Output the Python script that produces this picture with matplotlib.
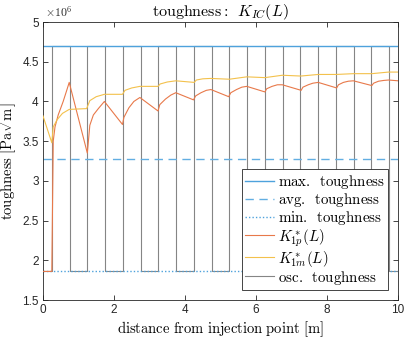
import matplotlib
matplotlib.use('Agg')
import matplotlib.pyplot as plt

plt.rcParams['font.family'] = ['Liberation Sans', 'DejaVu Sans']
plt.rcParams['mathtext.fontset'] = 'cm'

# toughness levels [Pa sqrt(m)]
k_max = 4.7e6
k_min = 1.86e6
k_avg = 3.28e6

# oscillating toughness (step edges and level of each segment)
osc_x = [0, 0.25, 0.75, 1.25, 1.75, 2.25, 2.75, 3.25, 3.75, 4.25, 4.75,
         5.25, 5.75, 6.25, 6.75, 7.25, 7.75, 8.25, 8.75, 9.25, 9.75, 10]
osc_y = [1.86e6, 4.7e6, 1.86e6, 4.7e6, 1.86e6, 4.7e6, 1.86e6, 4.7e6, 1.86e6, 4.7e6, 1.86e6,
         4.7e6, 1.86e6, 4.7e6, 1.86e6, 4.7e6, 1.86e6, 4.7e6, 1.86e6, 4.7e6, 1.86e6, 1.86e6]

# K*_1p(L)
k1p_x = [0, 0.25, 0.29, 0.34, 0.43, 0.57, 0.67, 0.74,
         1.25, 1.32, 1.42, 1.56, 1.73,
         2.24, 2.28, 2.42, 2.56, 2.73,
         3.24, 3.29, 3.45, 3.6, 3.74,
         4.24, 4.3, 4.45, 4.6, 4.73,
         5.23, 5.29, 5.45, 5.6, 5.74,
         6.25, 6.3, 6.45, 6.6, 6.74,
         7.27, 7.32, 7.47, 7.6, 7.75,
         8.27, 8.32, 8.46, 8.6, 8.74,
         9.26, 9.31, 9.45, 9.6, 9.73, 10]
k1p_y = [1.86, 1.86, 3.5, 3.68, 3.83, 4.0, 4.14, 4.24,
         3.35, 3.7, 3.83, 3.91, 4.0,
         3.71, 3.8, 3.92, 4.0, 4.05,
         3.88, 3.96, 4.03, 4.08, 4.11,
         4.02, 4.07, 4.11, 4.14, 4.15,
         4.06, 4.11, 4.15, 4.18, 4.19,
         4.12, 4.16, 4.19, 4.21, 4.21,
         4.14, 4.18, 4.21, 4.23, 4.24,
         4.17, 4.21, 4.24, 4.255, 4.26,
         4.2, 4.23, 4.255, 4.265, 4.27, 4.26]

# K*_1m(L)
k1m_x = [0, 0.25, 0.29, 0.4, 0.55, 0.74, 1.23, 1.32, 1.5, 1.73, 2.24, 2.31, 2.5,
         2.73, 3.24, 3.3, 3.5, 3.74, 4.26, 4.32, 4.5, 4.72, 5.25, 5.74, 6.25,
         6.74, 7.26, 7.75, 8.26, 8.74, 9.26, 9.73, 10]
k1m_y = [3.82, 3.48, 3.68, 3.77, 3.85, 3.9, 3.91, 4.01, 4.06, 4.09, 4.09, 4.14, 4.17,
         4.19, 4.19, 4.22, 4.245, 4.26, 4.24, 4.27, 4.285, 4.29, 4.28, 4.31, 4.3,
         4.33, 4.32, 4.34, 4.34, 4.35, 4.35, 4.37, 4.37]

fig = plt.figure(figsize=(4.05, 3.39), dpi=100)
ax = fig.add_axes([0.106, 0.115, 0.877, 0.82])

lw = 0.8
h_osc, = ax.plot(osc_x, osc_y, drawstyle='steps-post', color='#858585', lw=lw, zorder=1)
h_max, = ax.plot([0, 10], [k_max, k_max], color='#4ea2dc', lw=1.0, zorder=2)
h_avg, = ax.plot([0, 10], [k_avg, k_avg], color='#62aee2', lw=1.0, ls=(0, (6, 4)), zorder=2)
h_min, = ax.plot([0, 10], [k_min, k_min], color='#4ea2dc', lw=1.0, ls=(0, (1, 1.5)), zorder=2)
h_p, = ax.plot(k1p_x, [v * 1e6 for v in k1p_y], color='#e8794a', lw=lw, zorder=3)
h_m, = ax.plot(k1m_x, [v * 1e6 for v in k1m_y], color='#f3c14c', lw=lw, zorder=3)

ax.set_xlim(0, 10)
ax.set_ylim(1.5e6, 5e6)
ax.set_xticks([0, 2, 4, 6, 8, 10])
yt = [1.5e6, 2e6, 2.5e6, 3e6, 3.5e6, 4e6, 4.5e6, 5e6]
ax.set_yticks(yt)
ax.set_yticklabels(['1.5', '2', '2.5', '3', '3.5', '4', '4.5', '5'])
ax.tick_params(direction='in', top=True, right=True, length=3.5, width=0.6,
               labelsize=8.5, colors='#262626', pad=3)
for s in ax.spines.values():
    s.set_color('#262626')
    s.set_linewidth(0.6)

ax.set_title(r'$\mathrm{toughness{:}}\ \,K_{IC}(L)$', fontsize=11.5, pad=4)
ax.set_xlabel(r'$\mathrm{distance\ from\ injection\ point\ [m]}$', fontsize=10.5, labelpad=2)
ax.set_ylabel(r'$\mathrm{toughness\ [Pa}\sqrt{\mathrm{m}}\mathrm{]}$', fontsize=10.5, labelpad=2)

leg = ax.legend([h_max, h_avg, h_min, h_p, h_m, h_osc],
                [r'$\mathrm{max.\ \,toughness}$', r'$\mathrm{avg.\ \,toughness}$',
                 r'$\mathrm{min.\ \,toughness}$', r'$K^*_{1p}(L)$', r'$K^*_{1m}(L)$',
                 r'$\mathrm{osc.\ \,toughness}$'],
                loc='lower right', fontsize=10.8, fancybox=False, framealpha=1,
                edgecolor='#262626', borderaxespad=0.65, handlelength=1.9,
                handletextpad=0.25, labelspacing=0.0, borderpad=0.25)
leg.get_frame().set_linewidth(0.6)

# exponent label above the y axis
ax.text(0.005, 1.01, r'$\times\mathsf{10}^{\mathsf{6}}$', transform=ax.transAxes,
        fontsize=8.5, color='#262626', ha='left', va='bottom')

fig.savefig('out.png', dpi=100)
